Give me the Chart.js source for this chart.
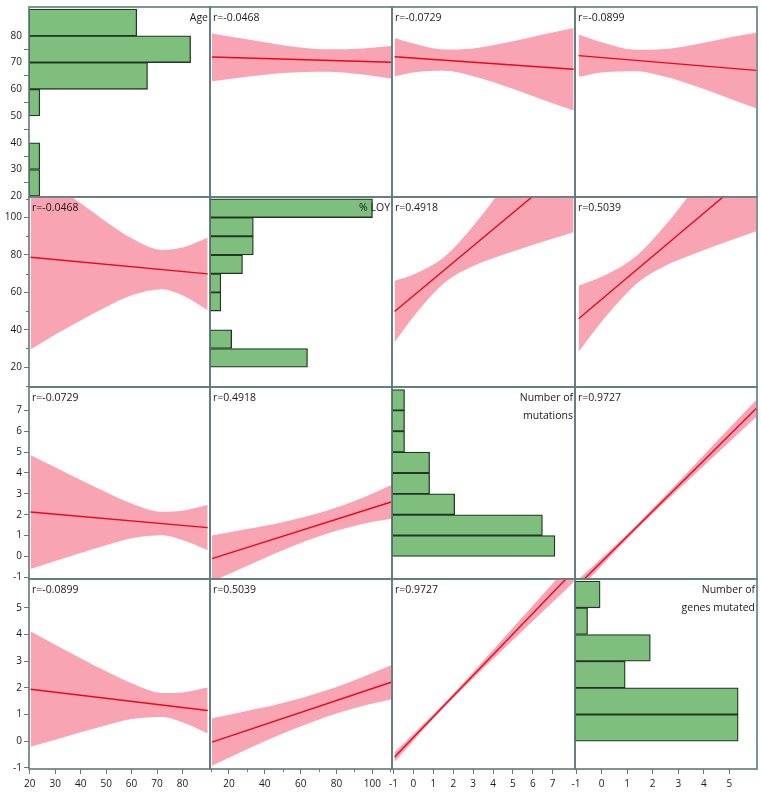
<!DOCTYPE html>
<html>
<head>
<meta charset="utf-8">
<script src="https://cdn.jsdelivr.net/npm/chart.js@4.4.1/dist/chart.umd.min.js"></script>
<style>
  html, body { margin: 0; padding: 0; background: #fff; }
  #matrix { position: relative; width: 761px; height: 798px; overflow: hidden; }
  #matrix canvas { position: absolute; }
</style>
</head>
<body>
<div id="matrix"></div>
<script>
// variables, in matrix order
const varTitles = [['Age'], ['% LOY'], ['Number of', 'mutations'], ['Number of', 'genes mutated']];
const axisMin = [19.7, 9.4, -1.08, -1.04];
const axisMax = [90.8, 111, 8.12, 6.08];

// tick marks and the ticks that carry a label
const ageTicks = [20, 30, 40, 50, 60, 70, 80];
const loyTicks = [10, 20, 30, 40, 50, 60, 70, 80, 90, 100, 110];
const loyLabels = [20, 40, 60, 80, 100];
const mutTicks = [-1, 0, 1, 2, 3, 4, 5, 6, 7];
const geneTicks = [-1, 0, 1, 2, 3, 4, 5];

// histograms on the diagonal (bin centre, count)
const ageBins = [25, 35, 45, 55, 65, 75, 85];
const ageCounts = [1, 1, 0, 1, 11, 15, 10];
const loyBins = [25, 35, 45, 55, 65, 75, 85, 95, 105];
const loyCounts = [9, 2, 0, 1, 1, 3, 4, 4, 15];
const mutBins = [0.5, 1.5, 2.5, 3.5, 4.5, 5.5, 6.5, 7.5];
const mutCounts = [13, 12, 5, 3, 3, 1, 1, 1];
const geneBins = [0.5, 1.5, 2.5, 3.5, 4.5, 5.5];
const geneCounts = [13, 13, 4, 6, 1, 2];
const histMax = [16.8, 16.8, 14.6, 14.5];

// correlations
const rMatrix = [
  [null, -0.0468, -0.0729, -0.0899],
  [-0.0468, null, 0.4918, 0.5039],
  [-0.0729, 0.4918, null, 0.9727],
  [-0.0899, 0.5039, 0.9727, null]
];

// x positions where the confidence bands were read, per x variable
const ageX = [20.3, 30, 40, 50, 60, 72, 80, 89.9];
const loyX = [10.5, 30, 50, 75, 95, 110.5];
const mutX = [-0.95, 0, 1.56, 3, 5, 6.5, 8.05];
const geneX = [-0.9, 0, 1.36, 2.5, 3.7, 5, 6.05];

// fit bands (upper, lower) and fit line ends, row variable vs column variable
const ageLoyHi = [80.9, 78.7, 76.5, 75.0, 75.3, 76.2];
const ageLoyLo = [63.0, 64.7, 66.1, 66.6, 65.5, 64.0];
const ageLoyFit = [72.1, 70.1];
const ageMutHi = [79.2, 77.1, 74.9, 75.3, 78.0, 80.5, 82.9];
const ageMutLo = [64.8, 66.3, 66.9, 64.9, 60.2, 56.1, 52.1];
const ageMutFit = [72.2, 67.5];
const ageGeneHi = [80.5, 77.6, 74.8, 75.1, 76.9, 79.4, 81.2];
const ageGeneLo = [64.7, 66.3, 66.8, 64.7, 61.1, 56.6, 52.9];
const ageGeneFit = [72.6, 67.1];

const loyAgeHi = [128.2, 117.7, 107.6, 97.8, 88.9, 82.7, 84.0, 89.2];
const loyAgeLo = [29.4, 37.5, 45.0, 52.2, 58.5, 61.7, 58.4, 50.5];
const loyAgeFit = [78.8, 69.9];
const loyMutHi = [66.2, 69.6, 79.1, 95.5, 123.3, 144.7, 167.1];
const loyMutLo = [33.4, 47.0, 65.1, 74.1, 81.9, 87.1, 92.1];
const loyMutFit = [49.8, 129.6];
const loyGeneHi = [63.6, 68.3, 79.5, 96.0, 116.8, 140.2, 159.3];
const loyGeneLo = [28.2, 44.3, 64.5, 74.2, 81.0, 87.6, 92.7];
const loyGeneFit = [45.9, 126.0];

const mutAgeHi = [4.86, 4.27, 3.66, 3.08, 2.54, 2.14, 2.19, 2.46];
const mutAgeLo = [-0.60, -0.22, 0.17, 0.54, 0.87, 1.02, 0.79, 0.30];
const mutAgeFit = [2.13, 1.38];
const mutLoyHi = [1.0, 1.31, 1.64, 2.20, 2.82, 3.41];
const mutLoyLo = [-1.2, -0.46, 0.30, 1.10, 1.57, 1.81];
const mutLoyFit = [-0.10, 2.61];
const mutGeneHi = [-1.09, -0.08, 1.50, 2.93, 4.47, 6.15, 7.50];
const mutGeneLo = [-1.62, -0.44, 1.28, 2.63, 4.00, 5.48, 6.68];
const mutGeneFit = [-1.35, 7.09];

const geneAgeHi = [4.12, 3.62, 3.11, 2.62, 2.17, 1.81, 1.83, 2.01];
const geneAgeLo = [-0.21, 0.06, 0.34, 0.60, 0.83, 0.91, 0.71, 0.29];
const geneAgeFit = [1.95, 1.15];
const geneLoyHi = [0.86, 1.13, 1.43, 1.92, 2.42, 2.85];
const geneLoyLo = [-0.92, -0.30, 0.29, 0.93, 1.33, 1.57];
const geneLoyFit = [-0.03, 2.21];
const geneMutHi = [-0.41, 0.28, 1.44, 2.59, 4.25, 5.50, 6.80];
const geneMutLo = [-0.77, 0.02, 1.28, 2.35, 3.79, 4.86, 5.96];
const geneMutFit = [-0.59, 6.38];

// lookups built from the arrays above
const tickValues = [ageTicks, loyTicks, mutTicks, geneTicks];
const tickLabels = [ageTicks, loyLabels, mutTicks, geneTicks];
const histBins = [ageBins, loyBins, mutBins, geneBins];
const histCounts = [ageCounts, loyCounts, mutCounts, geneCounts];
const bandX = [ageX, loyX, mutX, geneX];
const bands = [
  [null, [ageLoyHi, ageLoyLo, ageLoyFit], [ageMutHi, ageMutLo, ageMutFit], [ageGeneHi, ageGeneLo, ageGeneFit]],
  [[loyAgeHi, loyAgeLo, loyAgeFit], null, [loyMutHi, loyMutLo, loyMutFit], [loyGeneHi, loyGeneLo, loyGeneFit]],
  [[mutAgeHi, mutAgeLo, mutAgeFit], [mutLoyHi, mutLoyLo, mutLoyFit], null, [mutGeneHi, mutGeneLo, mutGeneFit]],
  [[geneAgeHi, geneAgeLo, geneAgeFit], [geneLoyHi, geneLoyLo, geneLoyFit], [geneMutHi, geneMutLo, geneMutFit], null]
];

// layout
const colEdges = [29, 210, 392, 575, 757];
const rowEdges = [7, 197, 387, 579, 769];
const PAD = 10;
const AXIS = 29;
const TICK = 5;
const MINOR_TICK = 3;
const frameColor = '#5f7b7b';
const textColor = '#1a1a1a';
const barFill = '#7ebf7e';
const barEdge = '#233523';
const bandFill = '#f9a4b2';
const fitColor = '#e8081a';

Chart.defaults.font.family = '"Open Sans", sans-serif';
Chart.defaults.animation = false;

// frame, r labels, variable titles and the short minor ticks
const cellDecor = {
  id: 'cellDecor',
  afterDatasetsDraw(chart, args, opts) {
    const ctx = chart.ctx;
    const a = chart.chartArea;
    ctx.save();
    ctx.strokeStyle = frameColor;
    ctx.lineWidth = 1.6;
    ctx.strokeRect(a.left, a.top, a.right - a.left, a.bottom - a.top);

    ctx.lineWidth = 1;
    ['x', 'y'].forEach(id => {
      const s = chart.scales[id];
      if (!s || !s.options.display) return;
      const v = s.options.varIndex;
      tickValues[v].filter(t => !tickLabels[v].includes(t)).forEach(t => {
        const p = Math.round(s.getPixelForValue(t)) + 0.5;
        ctx.beginPath();
        if (id === 'y') { ctx.moveTo(a.left - MINOR_TICK, p); ctx.lineTo(a.left, p); }
        else { ctx.moveTo(p, a.bottom); ctx.lineTo(p, a.bottom + MINOR_TICK); }
        ctx.stroke();
      });
    });

    ctx.fillStyle = textColor;
    ctx.font = '10.5px "Open Sans", sans-serif';
    if (opts.r != null) {
      ctx.textAlign = 'left';
      ctx.fillText('r=' + opts.r.toFixed(4), a.left + 3, a.top + 14);
    }
    if (opts.title) {
      ctx.textAlign = 'right';
      opts.title.forEach((t, k) => ctx.fillText(t, a.right - 2, a.top + 14 + k * 18));
    }
    ctx.restore();
  }
};

function axisCommon(v, show) {
  return {
    type: 'linear',
    varIndex: v,
    min: axisMin[v],
    max: axisMax[v],
    display: show,
    afterBuildTicks: a => { a.ticks = tickValues[v].map(t => ({value: t})); },
    grid: {
      display: true, drawOnChartArea: false, drawTicks: true, tickLength: TICK, lineWidth: 1,
      color: frameColor,
      tickColor: c => tickLabels[v].includes(c.tick && c.tick.value) ? frameColor : 'rgba(0,0,0,0)'
    },
    border: {display: false},
    ticks: {
      autoSkip: false, maxRotation: 0, minRotation: 0,
      color: textColor, font: {size: 10},
      callback: val => tickLabels[v].includes(val) ? String(val) : ''
    }
  };
}

function yScale(v, show) {
  const s = axisCommon(v, show);
  s.position = 'left';
  s.ticks.padding = 2;
  if (show) s.afterFit = a => { a.width = AXIS; a.paddingTop = 0; a.paddingBottom = 0; };
  return s;
}

function xScale(v, show) {
  const s = axisCommon(v, show);
  s.position = 'bottom';
  s.ticks.padding = 4;
  if (show) s.afterFit = a => { a.height = AXIS; a.paddingLeft = 0; a.paddingRight = 0; };
  return s;
}

function pts(xs, ys) {
  return xs.map((x, k) => ({x: x, y: ys[k]}));
}

function diagConfig(i) {
  const data = histBins[i].map((b, k) => ({x: histCounts[i][k], y: b})).filter(p => p.x > 0);
  return {
    type: 'bar',
    data: {datasets: [{
      data: data,
      xAxisID: 'xc', yAxisID: 'y',
      backgroundColor: barFill, borderColor: barEdge, borderWidth: 1.3, borderSkipped: false,
      barPercentage: 1, categoryPercentage: 1
    }]},
    options: {
      indexAxis: 'y',
      scales: {
        y: Object.assign(yScale(i, i === 0), {offset: false}),
        x: xScale(i, i === 3),
        xc: {type: 'linear', axis: 'x', position: 'bottom', min: 0, max: histMax[i], display: false}
      },
      plugins: {cellDecor: {title: varTitles[i]}}
    }
  };
}

function fitConfig(i, j) {
  const xs = bandX[j];
  const [hi, lo, fit] = bands[i][j];
  const edge = {showLine: true, pointRadius: 0, borderWidth: 0, borderColor: 'rgba(0,0,0,0)',
    cubicInterpolationMode: 'monotone', clip: 0};
  return {
    type: 'scatter',
    data: {datasets: [
      // fit line first so it is drawn on top of the band
      {data: [{x: xs[0], y: fit[0]}, {x: xs[xs.length - 1], y: fit[1]}],
        showLine: true, pointRadius: 0, borderColor: fitColor, borderWidth: 1.4, fill: false, clip: 0},
      Object.assign({data: pts(xs, hi), fill: false}, edge),
      Object.assign({data: pts(xs, lo), fill: '-1', backgroundColor: bandFill}, edge)
    ]},
    options: {
      scales: {x: xScale(j, i === 3), y: yScale(i, j === 0)},
      plugins: {cellDecor: {r: rMatrix[i][j]}}
    }
  };
}

const host = document.getElementById('matrix');
for (let i = 0; i < 4; i++) {
  for (let j = 0; j < 4; j++) {
    const left = j === 0 ? 0 : colEdges[j] - PAD;
    const top = rowEdges[i] - PAD;
    const right = colEdges[j + 1] + PAD;
    const bottom = i === 3 ? rowEdges[4] + AXIS : rowEdges[i + 1] + PAD;
    const cv = document.createElement('canvas');
    cv.width = right - left;
    cv.height = bottom - top;
    cv.style.left = left + 'px';
    cv.style.top = top + 'px';
    cv.style.width = (right - left) + 'px';
    cv.style.height = (bottom - top) + 'px';
    host.appendChild(cv);

    const cfg = i === j ? diagConfig(i) : fitConfig(i, j);
    cfg.options.responsive = false;
    cfg.options.layout = {padding: {left: j === 0 ? 0 : PAD, right: PAD, top: PAD, bottom: i === 3 ? 0 : PAD}};
    cfg.options.plugins.legend = {display: false};
    cfg.options.plugins.tooltip = {enabled: false};
    cfg.plugins = [cellDecor];
    new Chart(cv, cfg);
  }
}
</script>
</body>
</html>
